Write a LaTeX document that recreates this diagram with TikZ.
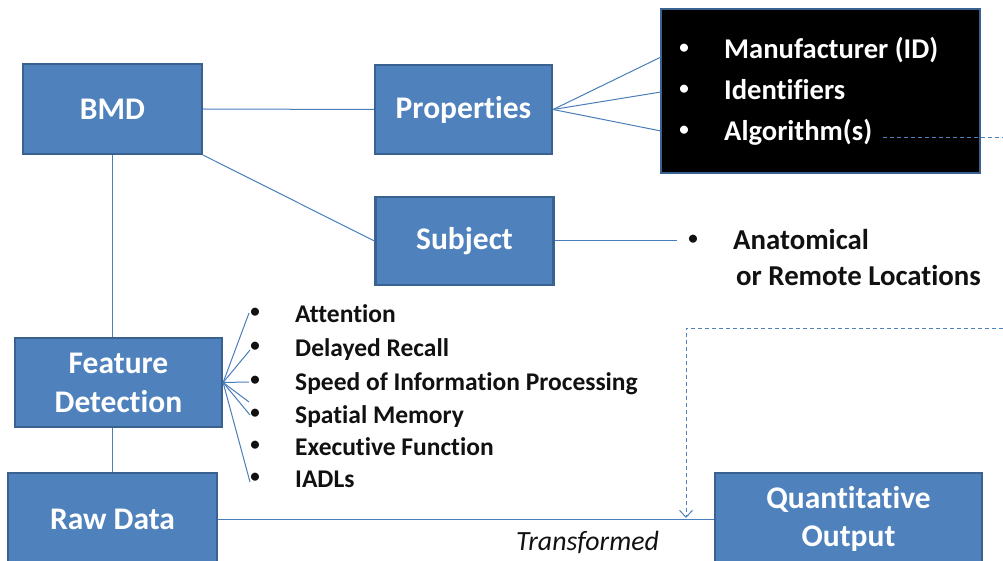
\documentclass[tikz,border=0pt]{standalone}
\usepackage{fontspec}
\setmainfont[Ligatures=NoCommon]{Carlito}
\usetikzlibrary{arrows.meta}
\definecolor{boxfill}{HTML}{4F81BD}
\definecolor{boxedge}{HTML}{3A6291}
\definecolor{connc}{HTML}{4A7EBB}
\definecolor{dashc}{HTML}{4F81BD}
\definecolor{inkc}{HTML}{111111}
\begin{document}
\begin{tikzpicture}[x=1pt,y=-1pt,
  bbox/.style={draw=boxedge, fill=boxfill, line width=2.2pt, inner sep=0pt,
    text=white, align=center, font=\fontsize{31.5}{39}\selectfont\bfseries},
  blkbox/.style={draw=boxedge, fill=black, line width=2.6pt, inner sep=0pt},
  conn/.style={draw=connc, line width=1pt},
  dashline/.style={draw=dashc, line width=1pt, dash pattern=on 4pt off 3pt},
  rlist/.style={anchor=base west, inner sep=0pt, text=white, font=\fontsize{28.6}{34}\selectfont\bfseries},
  slist/.style={anchor=base west, inner sep=0pt, text=inkc, font=\fontsize{28.8}{34}\selectfont\bfseries},
  llist/.style={anchor=base west, inner sep=0pt, text=inkc, font=\fontsize{25.5}{30}\selectfont\bfseries},
  bul/.style={anchor=center, inner sep=0pt, font=\fontsize{19}{20}\selectfont\bfseries},
  tlabel/.style={anchor=base west, inner sep=0pt, text=inkc, font=\fontsize{27.8}{32}\selectfont\itshape}
]
\useasboundingbox (0,0) rectangle (1003,561);
\clip (0,0) rectangle (1003,561);

% boxes
\node[bbox, minimum width=179pt, minimum height=90pt] (bmd) at (112.5,109) {BMD};
\node[bbox, minimum width=177pt, minimum height=89pt] (prop) at (463.5,109.5) {Properties};
\node[bbox, minimum width=178pt, minimum height=88pt] (subj) at (464.5,241) {Subject};
\node[bbox, minimum width=207pt, minimum height=89pt] (fd) at (118.5,382.5) {Feature\\Detection};
\node[bbox, minimum width=209pt, minimum height=92pt] (raw) at (112.5,519) {Raw Data};
\node[bbox, minimum width=267pt, minimum height=92pt, font=\fontsize{31.5}{38}\selectfont\bfseries] (quant) at (848.5,519) {Quantitative\\Output};
\node[blkbox, minimum width=319pt, minimum height=164pt] (blk) at (820.5,91) {};

% black box list
\node[bul, text=white] (rb1) at (684,49) {•};
\node[bul, text=white] (rb2) at (684,90) {•};
\node[bul, text=white] (rb3) at (684,131) {•};
\node[rlist] (man) at (724,59) {Manufacturer (ID)};
\node[rlist] (ids) at (724,100) {Identifiers};
\node[rlist] (alg) at (724,141) {Algorithm(s)};

% subject list
\node[bul, text=inkc] (sb1) at (693,240) {•};
\node[slist] (anat) at (733,250) {Anatomical};
\node[slist] (remote) at (736,285) {or Remote Locations};

% feature list
\node[bul, text=inkc] (lb1) at (255,313) {•};
\node[bul, text=inkc] (lb2) at (255,347) {•};
\node[bul, text=inkc] (lb3) at (255,381) {•};
\node[bul, text=inkc] (lb4) at (255,414) {•};
\node[bul, text=inkc] (lb5) at (255,446) {•};
\node[bul, text=inkc] (lb6) at (255,478) {•};
\node[llist] (att) at (295,322) {Attention};
\node[llist] (dr) at (295,356) {Delayed Recall};
\node[llist] (sip) at (295,390) {Speed of Information Processing};
\node[llist] (sm) at (295,423) {Spatial Memory};
\node[llist] (ef) at (295,455) {Executive Function};
\node[llist] (iadl) at (295,487) {IADLs};

\node[tlabel] (trans) at (516,550) {Transformed};

% connector end points
\coordinate (pf1) at (661,57);
\coordinate (pf2) at (661,92);
\coordinate (pf3) at (661,131);
\coordinate (se) at (677,241);
\coordinate (lf1) at (249,313);
\coordinate (lf2) at (250,350);
\coordinate (lf3) at (249,382);
\coordinate (lf4) at (249,402);
\coordinate (lf5) at (250,415);
\coordinate (lf6) at (250,482);
\coordinate (da) at (883,138);
\coordinate (db) at (1003,138);
\coordinate (dc) at (1003,328);
\coordinate (dd) at (686,518);

% connectors
\draw[conn] (bmd.east) -- (prop.west);
\draw[conn] (bmd.south east) -- (subj.west);
\draw[conn] (bmd.south) -- (bmd.south |- fd.north);
\draw[conn] (fd.south -| bmd.south) -- (raw.north -| bmd.south);
\draw[conn] (raw.east) -- (quant.west);
\draw[conn] (subj.east) -- (se);
\foreach \p in {pf1,pf2,pf3} \draw[conn] (prop.east) -- (\p);
\foreach \p in {lf1,lf2,lf3,lf4,lf5,lf6} \draw[conn] (fd.east) -- (\p);
\draw[dashline] (da) -- (db);
\draw[dashline, -{Straight Barb[length=7pt,width=13pt,line width=1pt]}] (dc) -| (dd);
\end{tikzpicture}
\end{document}
